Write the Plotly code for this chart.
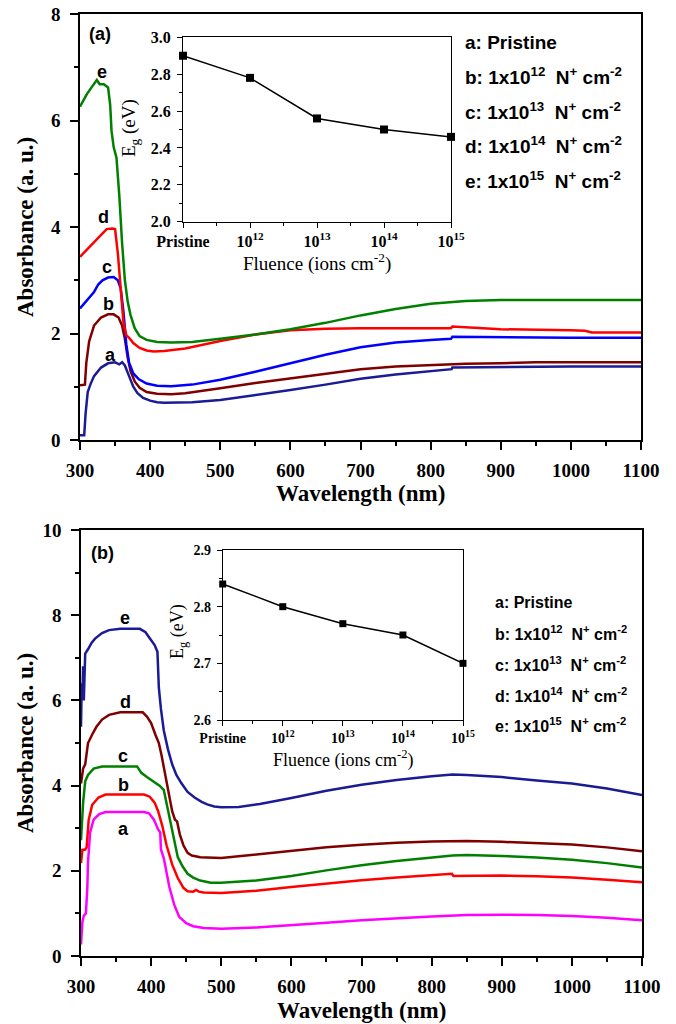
import plotly.graph_objects as go

W, H = 676, 1024

# ---------------- Panel (a) data ----------------
wl_a_a = [300, 306, 308, 311, 315, 320, 330, 340, 350, 356, 360, 364, 370, 376, 382, 390, 400, 410, 420, 440, 460,
          500, 550, 600, 650, 700, 750, 800, 830, 831, 900, 1000, 1100]
abs_a_a = [0.09, 0.09, 0.5, 0.9, 1.05, 1.2, 1.36, 1.44, 1.46, 1.42, 1.46, 1.4, 1.2, 1.0, 0.88, 0.79, 0.74, 0.71, 0.70,
           0.70, 0.71, 0.75, 0.84, 0.94, 1.04, 1.15, 1.23, 1.30, 1.33, 1.36, 1.37, 1.38, 1.38]

wl_a_b = [300, 307, 309, 313, 320, 330, 340, 348, 355, 360, 364, 368, 372, 378, 385, 395, 410, 430, 450, 480, 500,
          550, 600, 650, 700, 750, 800, 850, 900, 950, 1000, 1100]
abs_a_b = [1.03, 1.04, 1.45, 1.85, 2.15, 2.3, 2.36, 2.36, 2.3, 2.15, 1.9, 1.55, 1.3, 1.1, 0.98, 0.9, 0.87, 0.86, 0.88,
           0.93, 0.97, 1.07, 1.16, 1.24, 1.33, 1.38, 1.41, 1.43, 1.44, 1.46, 1.46, 1.46]

wl_a_c = [300, 310, 320, 326, 332, 340, 348, 354, 358, 362, 366, 370, 376, 384, 395, 410, 430, 460, 500, 550, 600,
          650, 700, 750, 800, 829, 831, 900, 1000, 1100]
abs_a_c = [2.47, 2.62, 2.78, 2.92, 3.0, 3.05, 3.06, 3.0, 2.85, 2.4, 1.8, 1.45, 1.25, 1.14, 1.06, 1.02, 1.01, 1.04,
           1.13, 1.28, 1.44, 1.6, 1.74, 1.83, 1.88, 1.90, 1.94, 1.93, 1.92, 1.92]

wl_a_d = [300, 310, 320, 330, 338, 346, 350, 354, 358, 362, 366, 370, 376, 385, 395, 405, 420, 450, 500, 550, 600,
          650, 700, 800, 829, 831, 900, 1000, 1020, 1030, 1100]
abs_a_d = [3.44, 3.58, 3.72, 3.86, 3.96, 3.97, 3.96, 3.5, 2.8, 2.2, 1.97, 1.92, 1.82, 1.73, 1.68, 1.66, 1.67, 1.72,
           1.86, 1.98, 2.06, 2.09, 2.10, 2.10, 2.10, 2.13, 2.08, 2.06, 2.05, 2.02, 2.02]

wl_a_e = [300, 310, 318, 324, 328, 334, 340, 343, 345, 348, 352, 356, 360, 364, 368, 372, 378, 385, 395, 410, 430,
          460, 500, 550, 600, 650, 700, 750, 800, 850, 900, 1000, 1100]
abs_a_e = [6.26, 6.5, 6.65, 6.76, 6.68, 6.68, 6.62, 6.3, 5.8, 5.5, 5.3, 4.6, 3.7, 3.0, 2.6, 2.35, 2.1, 1.95, 1.88,
           1.84, 1.83, 1.84, 1.9, 1.98, 2.08, 2.2, 2.34, 2.46, 2.56, 2.61, 2.63, 2.63, 2.63]

# ---------------- Panel (b) data ----------------
wl_b_a = [300, 302, 304, 307, 309, 310, 313, 318, 326, 335, 390, 397, 404, 410, 413, 414, 418, 426, 433, 440, 450,
          460, 475, 500, 550, 600, 650, 700, 750, 800, 850, 900, 950, 1000, 1050, 1100]
abs_b_a = [0.27, 0.8, 0.95, 1.0, 1.6, 2.2, 2.9, 3.2, 3.33, 3.38, 3.38, 3.35, 3.2, 2.97, 2.9, 2.5, 2.3, 1.62, 1.2,
           0.92, 0.77, 0.70, 0.66, 0.64, 0.67, 0.72, 0.78, 0.84, 0.89, 0.93, 0.96, 0.97, 0.96, 0.94, 0.90, 0.84]

wl_b_b = [300, 302, 306, 308, 311, 316, 325, 335, 390, 398, 405, 410, 416, 422, 430, 438, 446, 452, 460, 464, 468,
          475, 500, 550, 600, 650, 700, 750, 800, 829, 831, 900, 950, 1000, 1050, 1100]
abs_b_b = [2.18, 2.49, 2.5, 2.55, 3.2, 3.55, 3.72, 3.79, 3.79, 3.74, 3.6, 3.4, 3.05, 2.6, 2.15, 1.83, 1.6, 1.52,
           1.51, 1.55, 1.51, 1.49, 1.48, 1.53, 1.62, 1.70, 1.78, 1.84, 1.9, 1.93, 1.88, 1.89, 1.87, 1.84, 1.79, 1.73]

wl_b_c = [300, 303, 306, 310, 318, 330, 380, 386, 394, 404, 412, 418, 426, 432, 438, 445, 452, 460, 470, 485, 500,
          550, 600, 650, 700, 750, 800, 830, 850, 900, 950, 1000, 1050, 1100]
abs_b_c = [2.72, 3.6, 4.1, 4.25, 4.4, 4.45, 4.45, 4.3, 4.2, 4.1, 4.0, 3.9, 3.3, 2.8, 2.32, 2.1, 1.93, 1.84, 1.77,
           1.72, 1.72, 1.77, 1.88, 2.01, 2.13, 2.23, 2.31, 2.36, 2.37, 2.35, 2.31, 2.26, 2.18, 2.08]

wl_b_d = [300, 303, 306, 310, 316, 322, 330, 340, 356, 388, 394, 400, 406, 411, 415, 420, 425, 430, 434, 437, 441,
          446, 452, 458, 470, 500, 550, 600, 650, 700, 750, 800, 850, 900, 950, 1000, 1050, 1100]
abs_b_d = [4.05, 4.4, 4.5, 5.0, 5.2, 5.38, 5.55, 5.66, 5.72, 5.72, 5.62, 5.47, 5.2, 5.0, 4.7, 4.3, 3.83, 3.4, 3.2,
           3.16, 2.85, 2.6, 2.42, 2.36, 2.32, 2.3, 2.38, 2.46, 2.55, 2.61, 2.66, 2.69, 2.70, 2.68, 2.65, 2.62, 2.55,
           2.46]

wl_b_e = [300, 301, 302, 303, 304, 305, 306, 310, 315, 320, 330, 340, 356, 384, 392, 398, 405, 409, 411, 414, 418,
          424, 430, 436, 443, 452, 462, 472, 480, 490, 500, 525, 555, 600, 650, 700, 750, 800, 830, 850, 900, 950,
          1000, 1050, 1100]
abs_b_e = [5.38, 6.4, 6.0, 6.8, 6.0, 6.7, 7.1, 7.2, 7.35, 7.45, 7.58, 7.65, 7.68, 7.68, 7.6, 7.46, 7.3, 7.14, 6.3,
           5.8, 5.3, 4.85, 4.5, 4.25, 4.06, 3.85, 3.72, 3.62, 3.56, 3.51, 3.49, 3.50, 3.57, 3.71, 3.88, 4.02, 4.13,
           4.22, 4.26, 4.25, 4.20, 4.12, 4.05, 3.93, 3.78]

# ---------------- Inset data ----------------
fluence_labels = ["Pristine", "10<sup>12</sup>", "10<sup>13</sup>", "10<sup>14</sup>", "10<sup>15</sup>"]
eg_a = [2.90, 2.78, 2.56, 2.50, 2.46]
eg_b = [2.84, 2.80, 2.77, 2.75, 2.70]

legend_labels = ["a: Pristine",
                 "b: 1x10<sup>12</sup>\u00a0\u00a0N<sup>+</sup> cm<sup>-2</sup>",
                 "c: 1x10<sup>13</sup>\u00a0\u00a0N<sup>+</sup> cm<sup>-2</sup>",
                 "d: 1x10<sup>14</sup>\u00a0\u00a0N<sup>+</sup> cm<sup>-2</sup>",
                 "e: 1x10<sup>15</sup>\u00a0\u00a0N<sup>+</sup> cm<sup>-2</sup>"]
curve_letters = ["a", "b", "c", "d", "e"]

colors_a = ["#1b1b96", "#800000", "#0000ff", "#ff0000", "#008000"]
colors_b = ["#ff00ff", "#ff0000", "#008000", "#800000", "#1b1b96"]

SERIF = "Liberation Serif"
SANS = "Liberation Sans"


def px(x):
    return x / W


def py(y):
    return 1 - y / H


fig = go.Figure()


def add_lines(wls, vals, colors, xa, ya):
    for wl, v, c in zip(wls, vals, colors):
        fig.add_trace(go.Scatter(x=wl, y=v, mode="lines", line=dict(color=c, width=2.5),
                                 xaxis=xa, yaxis=ya, showlegend=False, hoverinfo="skip"))


add_lines([wl_a_a, wl_a_b, wl_a_c, wl_a_d, wl_a_e], [abs_a_a, abs_a_b, abs_a_c, abs_a_d, abs_a_e], colors_a, "x", "y")
add_lines([wl_b_a, wl_b_b, wl_b_c, wl_b_d, wl_b_e], [abs_b_a, abs_b_b, abs_b_c, abs_b_d, abs_b_e], colors_b, "x5", "y5")

for eg, xa, ya, ms in [(eg_a, "x3", "y3", 8), (eg_b, "x7", "y7", 7)]:
    fig.add_trace(go.Scatter(x=list(range(len(fluence_labels))), y=eg, mode="lines+markers",
                             line=dict(color="black", width=1.5),
                             marker=dict(symbol="square", size=ms, color="black"),
                             xaxis=xa, yaxis=ya, showlegend=False, hoverinfo="skip", cliponaxis=False))


def base_axis(domain, anchor, rng, dtick, minor_dtick, font, ticklen, minorlen, lw, standoff, **kw):
    d = dict(domain=domain, anchor=anchor, range=rng, tickmode="linear", tick0=0, dtick=dtick,
             ticks="outside", ticklen=ticklen, tickwidth=lw, tickcolor="black",
             minor=dict(dtick=minor_dtick, tick0=0, ticks="outside", ticklen=minorlen, tickwidth=lw,
                        tickcolor="black"),
             showline=True, linecolor="black", linewidth=lw, mirror=True, automargin=False,
             showgrid=False, zeroline=False, tickfont=font, ticklabelstandoff=standoff)
    d.update(kw)
    return d


def mirror_axis(over, anchor, side, rng, dtick, minor_dtick, ticklen, minorlen, lw, **kw):
    d = dict(overlaying=over, anchor=anchor, side=side, range=rng, tickmode="linear", tick0=0, dtick=dtick,
             ticks="inside", ticklen=ticklen, tickwidth=lw, tickcolor="black",
             minor=dict(dtick=minor_dtick, tick0=0, ticks="inside", ticklen=minorlen, tickwidth=lw,
                        tickcolor="black"),
             showticklabels=False, showline=False, showgrid=False, zeroline=False, automargin=False)
    d.update(kw)
    return d


main_font = dict(family=SERIF, size=19, color="black", weight="bold")
inset_font_a = dict(family=SERIF, size=16, color="black", weight="bold")
inset_font_b = dict(family=SERIF, size=14, color="black", weight="bold")

# domains
xa_dom = [px(80), px(641)]
ya_dom = [py(440), py(14)]
xb_dom = [px(81), px(642)]
yb_dom = [py(956), py(530)]
xia_dom = [px(183), px(451)]
yia_dom = [py(221.7), py(37.3)]
xib_dom = [px(222.7), px(463)]
yib_dom = [py(720), py(550)]

xr = [300, 1100]
cat_kw = dict(tickmode="array", tickvals=list(range(len(fluence_labels))), ticktext=fluence_labels)
cat_kw_m = dict(tickmode="array", tickvals=list(range(len(fluence_labels))))

layout_axes = dict(
    xaxis=base_axis(xa_dom, "y", xr, 100, 50, main_font, 8, 4, 1.5, 4),
    yaxis=base_axis(ya_dom, "x", [0, 8], 2, 1, main_font, 8, 4, 1.5, 6),
    xaxis2=mirror_axis("x", "y", "top", xr, 100, 50, 8, 4, 1.5),
    yaxis2=mirror_axis("y", "x", "right", [0, 8], 2, 1, 8, 4, 1.5),
    xaxis3=base_axis(xia_dom, "y3", [0, 4], 1, 0.5, inset_font_a, 5, 3, 1, 0, **cat_kw),
    yaxis3=base_axis(yia_dom, "x3", [2.0, 3.0], 0.2, 0.1, inset_font_a, 5, 3, 1, 3, tickformat=".1f"),
    xaxis4=mirror_axis("x3", "y3", "top", [0, 4], 1, 0.5, 5, 3, 1, **cat_kw_m),
    yaxis4=mirror_axis("y3", "x3", "right", [2.0, 3.0], 0.2, 0.1, 5, 3, 1),
    xaxis5=base_axis(xb_dom, "y5", xr, 100, 50, main_font, 8, 4, 1.5, 4),
    yaxis5=base_axis(yb_dom, "x5", [0, 10], 2, 1, main_font, 8, 4, 1.5, 6),
    xaxis6=mirror_axis("x5", "y5", "top", xr, 100, 50, 8, 4, 1.5),
    yaxis6=mirror_axis("y5", "x5", "right", [0, 10], 2, 1, 8, 4, 1.5),
    xaxis7=base_axis(xib_dom, "y7", [0, 4], 1, 0.5, inset_font_b, 5, 3, 1, 0, **cat_kw),
    yaxis7=base_axis(yib_dom, "x7", [2.6, 2.9], 0.1, 0.05, inset_font_b, 5, 3, 1, 3, tickformat=".1f"),
    xaxis8=mirror_axis("x7", "y7", "top", [0, 4], 1, 0.5, 5, 3, 1, **cat_kw_m),
    yaxis8=mirror_axis("y7", "x7", "right", [2.6, 2.9], 0.1, 0.05, 5, 3, 1),
)

ann = []


def paper_text(x, y, text, font, angle=0, xanchor="center"):
    ann.append(dict(x=px(x), y=py(y), xref="paper", yref="paper", text=text, showarrow=False,
                    font=font, textangle=angle, xanchor=xanchor, yanchor="middle"))


def data_text(x, y, xref, yref, text, font):
    ann.append(dict(x=x, y=y, xref=xref, yref=yref, text=text, showarrow=False, font=font,
                    xanchor="center", yanchor="middle"))


title_font = dict(family=SERIF, size=23, color="black", weight="bold")
paper_text(25, 227, "Absorbance (a. u.)", title_font, angle=-90)
paper_text(360, 493, "Wavelength (nm)", title_font)
paper_text(25, 743, "Absorbance (a. u.)", title_font, angle=-90)
paper_text(361, 1010, "Wavelength (nm)", title_font)

paper_text(130, 128, "E<sub>g</sub> (eV)", dict(family=SERIF, size=19, color="black"), angle=-90)
paper_text(317, 262, "Fluence (ions cm<sup>-2</sup>)", dict(family=SERIF, size=19, color="black"))
paper_text(178, 632, "E<sub>g</sub> (eV)", dict(family=SERIF, size=18, color="black"), angle=-90)
paper_text(343, 759, "Fluence (ions cm<sup>-2</sup>)", dict(family=SERIF, size=18, color="black"))

lab_font = dict(family=SANS, size=18, color="black", weight="bold")
data_text(328.5, 7.62, "x", "y", "(a)", lab_font)
data_text(331, 9.46, "x5", "y5", "(b)", lab_font)

lab_pos_a = [(344, 1.6), (341, 2.55), (338, 3.25), (334, 4.19), (331, 6.91)]
lab_pos_b = [(361, 2.97), (361, 4.02), (360, 4.69), (363, 5.96), (363, 7.93)]
for letter, (lx, ly) in zip(curve_letters, lab_pos_a):
    data_text(lx, ly, "x", "y", letter, lab_font)
for letter, (lx, ly) in zip(curve_letters, lab_pos_b):
    data_text(lx, ly, "x5", "y5", letter, lab_font)

leg_font_a = dict(family=SANS, size=19, color="black", weight="bold")
leg_font_b = dict(family=SANS, size=16, color="black", weight="bold")
for txt, yy in zip(legend_labels, [42, 76, 111, 145, 180]):
    paper_text(463, yy, txt, leg_font_a, xanchor="left")
for txt, yy in zip(legend_labels, [602, 633, 664, 695, 725]):
    paper_text(493, yy, txt, leg_font_b, xanchor="left")

fig.update_layout(width=W, height=H, autosize=False,
                  margin=dict(l=0, r=0, t=0, b=0, pad=0, autoexpand=False),
                  paper_bgcolor="white", plot_bgcolor="white", showlegend=False,
                  annotations=ann, **layout_axes)

fig.write_html("out.html")
